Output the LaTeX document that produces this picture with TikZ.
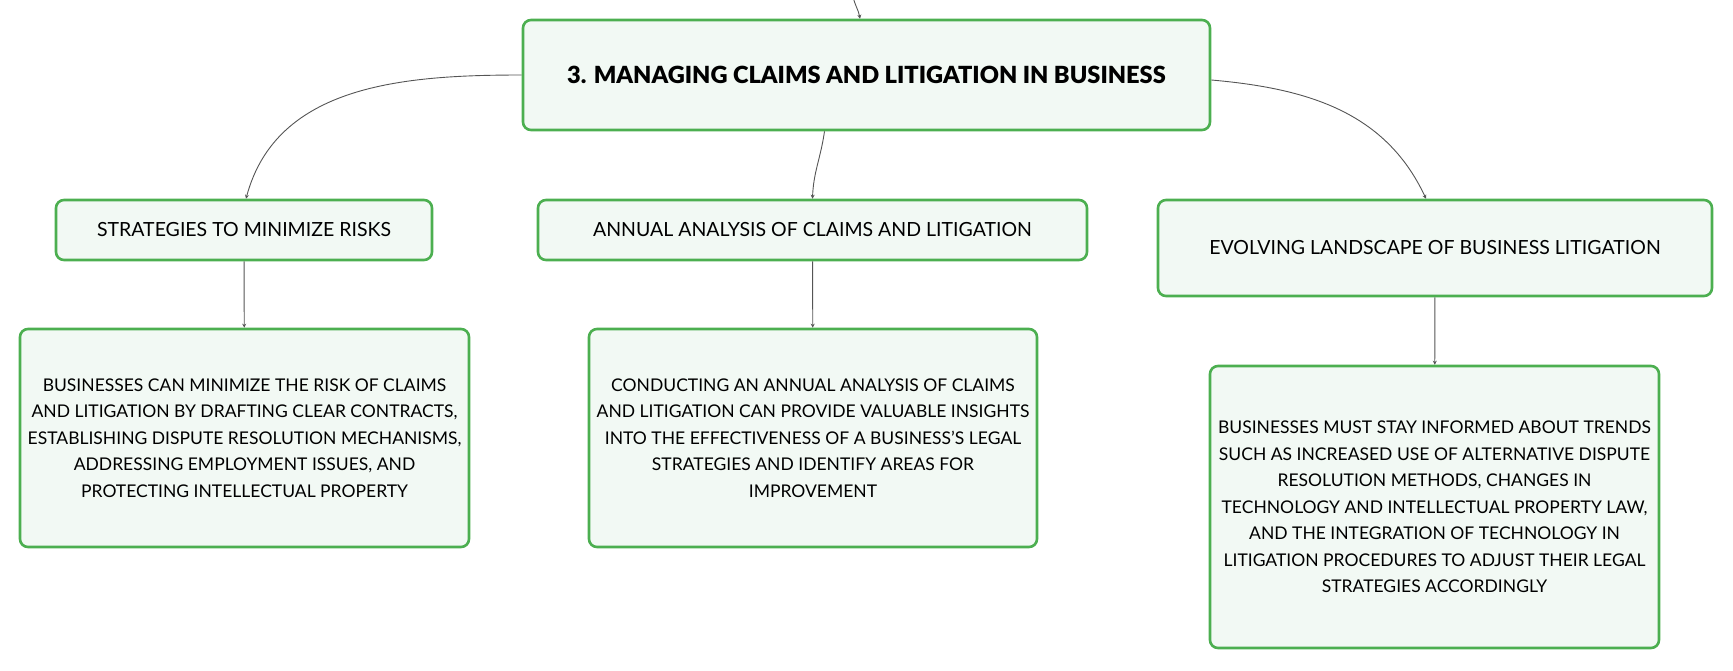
\documentclass[tikz,border=0pt]{standalone}
\usepackage{fontspec}
\setmainfont{Lato}
\newfontfamily\titlefont{Lato Black}
\usetikzlibrary{arrows.meta,positioning}
\definecolor{boxgreen}{HTML}{4CAF50}
\definecolor{boxfill}{HTML}{F2F9F4}
\definecolor{linkgray}{HTML}{555555}

\begin{document}
\begin{tikzpicture}[x=1pt,y=-1pt]

\tikzset{topic/.style={draw=boxgreen, line width=2.6pt, fill=boxfill, rounded corners=8pt,
    align=center, inner sep=0pt, font=\fontsize{17.5}{26.5}\selectfont},
  subtopic/.style={topic, font=\fontsize{19.5}{26.5}\selectfont},
  maintopic/.style={topic, font=\fontsize{23.6}{28}\selectfont\titlefont},
  link/.style={draw=linkgray, line width=0.9pt, -{Stealth[length=4pt,width=4pt]}}}

\useasboundingbox (0,0) rectangle (1733,670);

\node[maintopic, minimum width=687pt, minimum height=110pt] (managing) at (866.5,75)
  {3. MANAGING CLAIMS AND LITIGATION IN BUSINESS};
\coordinate (parent) at (853,-4);

\node[subtopic, minimum width=376pt, minimum height=60pt] (strategies) at (244,230)
  {STRATEGIES TO MINIMIZE RISKS};
\node[subtopic, minimum width=549pt, minimum height=60pt] (annual) at (812.5,230)
  {ANNUAL ANALYSIS OF CLAIMS AND LITIGATION};
\node[subtopic, minimum width=554pt, minimum height=96pt] (evolving) at (1435,248)
  {EVOLVING LANDSCAPE OF BUSINESS LITIGATION};

\node[topic, minimum width=449pt, minimum height=218pt] (minimize) at (244.5,438)
  {BUSINESSES CAN MINIMIZE THE RISK OF CLAIMS\\
   AND LITIGATION BY DRAFTING CLEAR CONTRACTS,\\
   ESTABLISHING DISPUTE RESOLUTION MECHANISMS,\\
   ADDRESSING EMPLOYMENT ISSUES, AND\\
   PROTECTING INTELLECTUAL PROPERTY};
\node[topic, minimum width=448pt, minimum height=218pt] (insights) at (813,438)
  {CONDUCTING AN ANNUAL ANALYSIS OF CLAIMS\\
   AND LITIGATION CAN PROVIDE VALUABLE INSIGHTS\\
   INTO THE EFFECTIVENESS OF A BUSINESS'S LEGAL\\
   STRATEGIES AND IDENTIFY AREAS FOR\\
   IMPROVEMENT};
\node[topic, minimum width=449pt, minimum height=282pt] (trends) at (1434.5,507)
  {BUSINESSES MUST STAY INFORMED ABOUT TRENDS\\
   SUCH AS INCREASED USE OF ALTERNATIVE DISPUTE\\
   RESOLUTION METHODS, CHANGES IN\\
   TECHNOLOGY AND INTELLECTUAL PROPERTY LAW,\\
   AND THE INTEGRATION OF TECHNOLOGY IN\\
   LITIGATION PROCEDURES TO ADJUST THEIR LEGAL\\
   STRATEGIES ACCORDINGLY};

% links
\draw[link] (parent) to[out=-80,in=100] ([xshift=-6.5pt]managing.north);
\draw[link] (managing.west) to[out=180,in=75] ([xshift=2pt]strategies.north);
\draw[link] ([xshift=-42pt]managing.south) to[out=-98,in=88] (annual.north);
\draw[link] ([yshift=-5pt]managing.east) to[out=-5,in=115] ([xshift=-9pt]evolving.north);
\draw[link] (strategies) -- (minimize);
\draw[link] (annual) -- (insights);
\draw[link] (evolving) -- (trends);

\end{tikzpicture}
\end{document}
